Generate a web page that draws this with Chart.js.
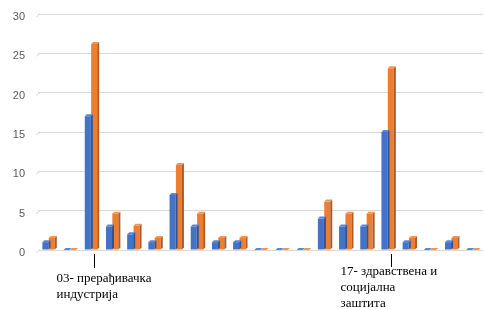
<!DOCTYPE html>
<html><head><meta charset="utf-8">
<script src="https://cdn.jsdelivr.net/npm/chart.js@4.4.1/dist/chart.umd.min.js"></script>
<style>html,body{margin:0;padding:0;background:#fff}#wrap{width:484px;height:309px}</style>
</head><body><div id="wrap"><canvas id="c" width="484" height="309"></canvas></div>
<script>
const categories = ['01','02','03','04','05','06','07','08','09','10','11','12','13','14','15','16','17','18','19','20','21'];
const countValues = [1,0,17,3,2,1,7,3,1,1,0,0,0,4,3,3,15,1,0,1,0];
const percentValues = [1.54,0,26.2,4.62,3.08,1.54,10.8,4.62,1.54,1.54,0,0,0,6.15,4.62,4.62,23.1,1.54,0,1.54,0];
const yTicks = [0,5,10,15,20,25,30];
const callouts = [
  {index: 2, lines: ['03- прерађивачка', 'индустрија'], dx: -38, dy: 32, lh: 16, lineEnd: 18},
  {index: 16, lines: ['17- здравствена и', 'социјална', 'заштита'], dx: -51, dy: 25, lh: 16.2, lineEnd: 17}
];

const depth = 2;
const faces = {
  id: 'faces',
  beforeDatasetsDraw(chart) {
    const ctx = chart.ctx;
    const ys = chart.scales.y;
    const left = chart.chartArea.left;
    ctx.save();
    ctx.strokeStyle = '#d9d9d9';
    ctx.lineWidth = 1;
    ys.ticks.forEach(t => {
      const py = ys.getPixelForValue(t.value);
      ctx.beginPath(); ctx.moveTo(left - 2, py + 3); ctx.lineTo(left + 2, py); ctx.stroke();
    });
    ctx.restore();
  },
  afterDatasetsDraw(chart) {
    const ctx = chart.ctx;
    const sideCols = ['#2f5597', '#ae5a21'];
    const topCols = ['#5b86d4', '#f3944f'];
    chart.data.datasets.forEach((ds, di) => {
      chart.getDatasetMeta(di).data.forEach(el => {
        const {x, y, base, width} = el.getProps(['x','y','base','width'], true);
        const l = x - width/2, r = x + width/2;
        ctx.save();
        ctx.fillStyle = sideCols[di];
        ctx.beginPath();
        ctx.moveTo(r, y); ctx.lineTo(r+depth, y-depth); ctx.lineTo(r+depth, base-depth); ctx.lineTo(r, base);
        ctx.closePath(); ctx.fill();
        ctx.fillStyle = topCols[di];
        ctx.beginPath();
        ctx.moveTo(l, y); ctx.lineTo(l+depth, y-depth); ctx.lineTo(r+depth, y-depth); ctx.lineTo(r, y);
        ctx.closePath(); ctx.fill();
        ctx.restore();
      });
    });
  },
  afterDraw(chart) {
    const ctx = chart.ctx;
    const xs = chart.scales.x;
    const base = chart.scales.y.getPixelForValue(0);
    ctx.save();
    ctx.strokeStyle = '#000';
    ctx.lineWidth = 1;
    ctx.fillStyle = '#000';
    ctx.font = '13px "Liberation Serif", "DejaVu Serif", serif';
    ctx.textBaseline = 'alphabetic';
    callouts.forEach(c => {
      const px = Math.round(xs.getPixelForValue(c.index) + 3) + 0.5;
      ctx.beginPath(); ctx.moveTo(px, base + 4); ctx.lineTo(px, base + c.lineEnd); ctx.stroke();
      c.lines.forEach((t, i) => ctx.fillText(t, px + c.dx, base + c.dy + i*c.lh));
    });
    ctx.restore();
  }
};

new Chart(document.getElementById('c'), {
  type: 'bar',
  data: {
    labels: categories,
    datasets: [
      {label: 'број', data: countValues, backgroundColor: '#4472c4'},
      {label: '%', data: percentValues, backgroundColor: '#ed7d31'}
    ]
  },
  options: {
    responsive: false,
    animation: false,
    devicePixelRatio: 1,
    layout: {padding: {top: 14, right: 1, bottom: 59, left: 0}},
    categoryPercentage: 0.6,
    barPercentage: 0.95,
    plugins: {legend: {display: false}, tooltip: {enabled: false}},
    scales: {
      x: {display: false},
      y: {
        min: 0, max: 30,
        afterFit(s) { s.width = 38; s.paddingTop = 0; s.paddingBottom = 0; },
        afterBuildTicks(s) { s.ticks = yTicks.map(v => ({value: v})); },
        border: {display: false},
        grid: {color: '#d9d9d9', lineWidth: 1, drawTicks: false},
        ticks: {color: '#595959', padding: 13, labelOffset: 3, font: {family: '"Liberation Sans", Arial, sans-serif', size: 11}}
      }
    }
  },
  plugins: [faces]
});
</script></body></html>
